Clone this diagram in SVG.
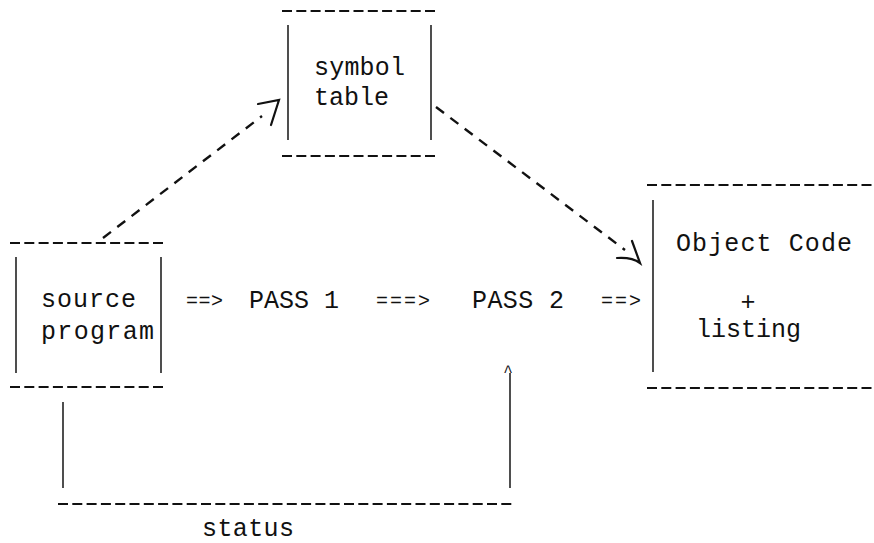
<svg xmlns="http://www.w3.org/2000/svg" width="874" height="543" viewBox="0 0 874 543">
<style>
text{font-family:"Liberation Mono","DejaVu Sans Mono",monospace;font-size:25px;fill:#111}
.arr{font-size:20px}
.dash{stroke:#111;stroke-width:2;stroke-dasharray:10 4.3;fill:none}
.side{stroke:#222;stroke-width:1.6;fill:none}
.flow{stroke:#111;stroke-width:2.4;stroke-dasharray:10 8;fill:none}
.head{stroke:#111;stroke-width:2.2;fill:none;stroke-linecap:round}
</style>
<rect width="874" height="543" fill="#fff"/>
<g id="source-program">
<line class="dash" x1="10" y1="243" x2="167" y2="243"/>
<line class="dash" x1="10" y1="387" x2="167" y2="387"/>
<line class="side" x1="16" y1="257" x2="16" y2="373"/>
<line class="side" x1="161" y1="257" x2="161" y2="373"/>
<text x="41" y="307" textLength="95" lengthAdjust="spacing">source</text>
<text x="41" y="339" textLength="113" lengthAdjust="spacing">program</text>
</g>
<g id="symbol-table">
<line class="dash" x1="282" y1="11" x2="437" y2="11"/>
<line class="dash" x1="282" y1="156" x2="437" y2="156"/>
<line class="side" x1="288" y1="25" x2="288" y2="140"/>
<line class="side" x1="431" y1="25" x2="431" y2="140"/>
<text x="314" y="75" textLength="91" lengthAdjust="spacing">symbol</text>
<text x="314" y="105" textLength="75" lengthAdjust="spacing">table</text>
</g>
<g id="object-code">
<line class="dash" x1="647" y1="185" x2="874" y2="185"/>
<line class="dash" x1="647" y1="388" x2="874" y2="388"/>
<line class="side" x1="653" y1="200" x2="653" y2="372"/>
<text x="676" y="251" textLength="176" lengthAdjust="spacing">Object Code</text>
<text x="748" y="310" text-anchor="middle">+</text>
<text x="696" y="337" textLength="105" lengthAdjust="spacing">listing</text>
</g>
<g id="pass1">
<text x="249" y="308" textLength="90" lengthAdjust="spacing">PASS 1</text>
</g>
<g id="pass2">
<text x="472" y="308" textLength="92" lengthAdjust="spacing">PASS 2</text>
</g>
<g id="connectors">
<text class="arr" x="186" y="307" letter-spacing="0.5">==&gt;</text>
<text class="arr" x="376" y="307" letter-spacing="2">===&gt;</text>
<text class="arr" x="601" y="307" letter-spacing="2">==&gt;</text>
<line class="flow" x1="103" y1="238" x2="262" y2="116"/>
<path class="head" d="M258,104 L279,100 L271,125"/>
<line class="flow" x1="436" y1="107" x2="625" y2="250"/>
<path class="head" d="M617,258 Q632,257 640,263 L632,241"/>
<line class="side" x1="63" y1="402" x2="63" y2="488"/>
<line class="side" x1="510" y1="373" x2="510" y2="488"/>
<line class="dash" x1="58" y1="504" x2="515" y2="504"/>
<text x="508" y="377" text-anchor="middle" style="font-size:16px">^</text>
<text x="202" y="536" textLength="92" lengthAdjust="spacing">status</text>
</g>
</svg>
